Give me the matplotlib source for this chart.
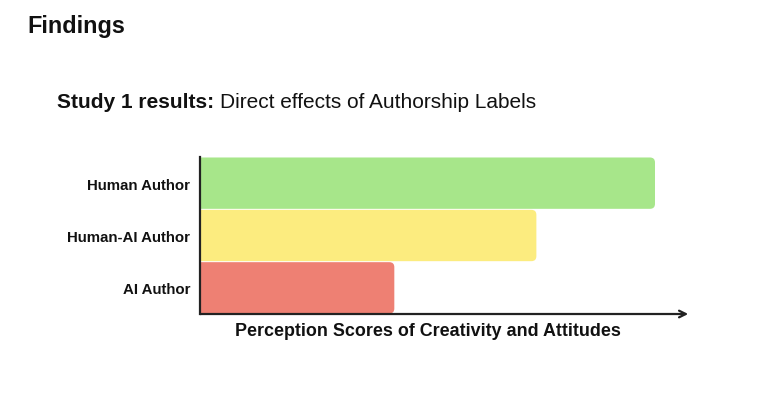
import matplotlib.pyplot as plt
from matplotlib.patches import FancyBboxPatch

# data (arbitrary 0-100 scale)
groups = ['AI Author', 'Human-AI Author', 'Human Author']
scores = [39.8, 68.9, 93.2]
bar_colors = ['#ee8073', '#fcec7f', '#a7e68a']

plt.rcParams['font.family'] = ['Liberation Sans', 'DejaVu Sans']

fig = plt.figure(figsize=(7.58, 4.02), dpi=100)
fig.patch.set_facecolor('white')

ax = fig.add_axes([0.2639, 0.2164, 0.644, 0.3906])
bars = ax.barh(range(len(groups)), scores, height=1.0, color=bar_colors)
ax.set_xlim(0, 100)
ax.set_ylim(-0.5, len(groups) - 0.5)

ax.set_yticks(range(len(groups)))
ax.set_yticklabels(groups, fontsize=10.8, fontweight='bold', color='#111111')
ax.set_xticks([])
ax.tick_params(axis='y', length=0, pad=7)
for s in ['top', 'right', 'bottom']:
    ax.spines[s].set_visible(False)
ax.spines['left'].set_linewidth(1.6)
ax.spines['left'].set_color('#222222')

# x axis drawn as an arrow
ax.annotate('', xy=(1.0, 0), xycoords='axes fraction', xytext=(0, 0),
            arrowprops=dict(arrowstyle='->', lw=1.6, color='#222222',
                            shrinkA=0, shrinkB=0, mutation_scale=12))
xl = ax.set_xlabel('Perception Scores of Creativity and Attitudes',
                   fontsize=12.9, fontweight='bold', color='#111111')
xl.set_verticalalignment('center')
ax.xaxis.set_label_coords(0.466, -0.102)

# swap plain bars for ones with rounded right ends
fig.canvas.draw()
r = 5
for b in bars:
    (x0, y0), (x1, y1) = ax.transData.transform([(b.get_x(), b.get_y()),
                                                 (b.get_x() + b.get_width(), b.get_y() + b.get_height())])
    b.set_visible(False)
    p = FancyBboxPatch((x0 - 2 * r, y0 + 0.5), x1 - x0 + 2 * r, y1 - y0 - 1,
                       boxstyle=f'round,pad=0,rounding_size={r}',
                       facecolor=b.get_facecolor(), edgecolor='none',
                       transform=None, clip_on=True)
    p.set_clip_box(ax.bbox)
    ax.add_artist(p)

fig.text(27 / 758, 1 - 27 / 402, 'Findings', fontsize=16.8, fontweight='bold',
         va='center', ha='left', color='#111111')
fig.text(57 / 758, 1 - 103 / 402, 'Study 1 results:', fontsize=15,
         fontweight='bold', va='center', ha='left', color='#111111')
fig.text(220 / 758, 1 - 103 / 402, 'Direct effects of Authorship Labels',
         fontsize=15, va='center', ha='left', color='#111111')

fig.savefig('out.png', dpi=100)
